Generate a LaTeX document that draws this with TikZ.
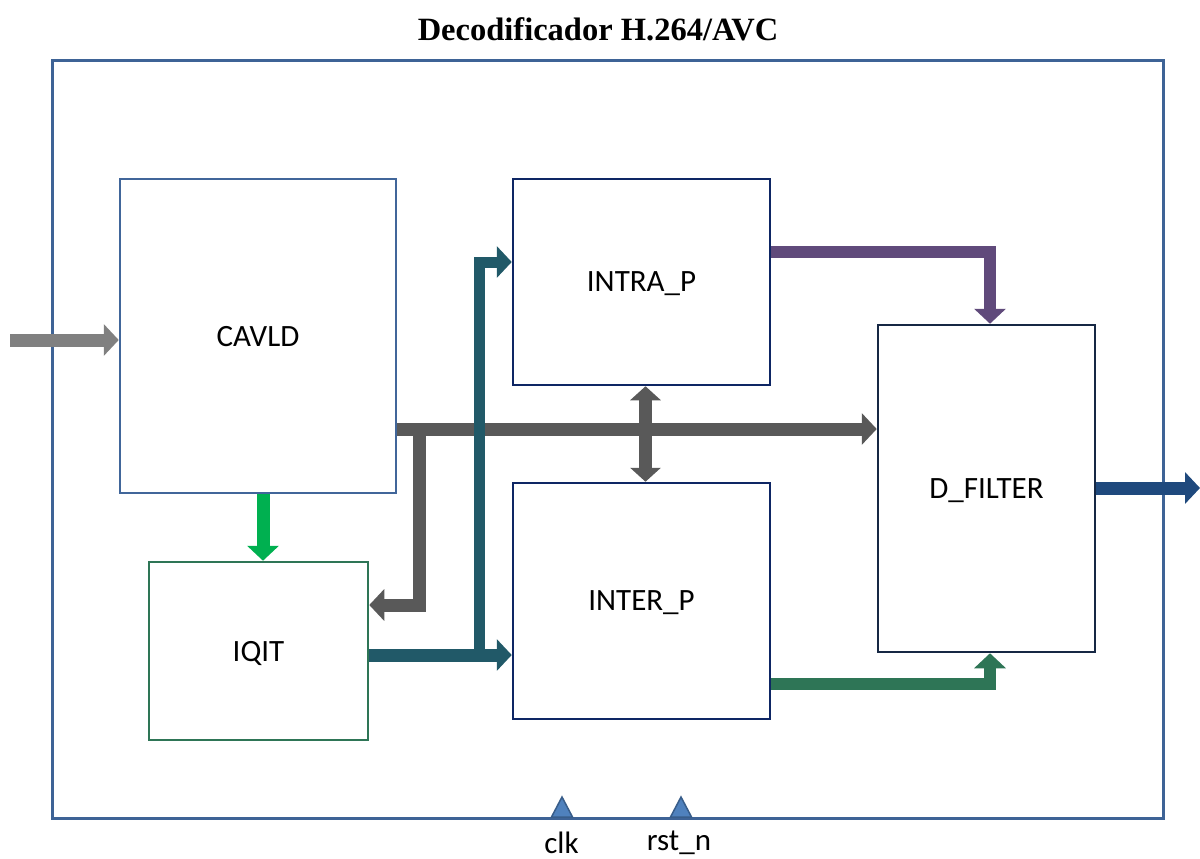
\documentclass[tikz,border=0pt]{standalone}
\usepackage{fontspec}
\setmainfont{Carlito}
\newfontfamily\titlefont{Liberation Serif}
\usepackage{tikz}
\usetikzlibrary{arrows.meta}

\definecolor{framecol}{RGB}{62,99,150}
\definecolor{cavldcol}{RGB}{65,102,154}
\definecolor{iqitcol}{RGB}{46,117,86}
\definecolor{navycol}{RGB}{14,38,100}
\definecolor{dfiltcol}{RGB}{22,40,68}
\definecolor{incol}{RGB}{128,128,128}
\definecolor{buscol}{RGB}{89,89,89}
\definecolor{coefcol}{RGB}{0,176,80}
\definecolor{tealcol}{RGB}{33,89,104}
\definecolor{purpcol}{RGB}{96,74,123}
\definecolor{greencol}{RGB}{46,117,86}
\definecolor{outcol}{RGB}{31,73,125}
\definecolor{portfill}{RGB}{79,129,189}
\definecolor{portdraw}{RGB}{56,93,138}

\begin{document}
\begin{tikzpicture}[x=1pt,y=-1pt,
	block/.style={draw, line width=2.5pt, fill=white, inner sep=0pt,
		text depth=0pt, font=\fontsize{31}{37}\selectfont},
	pipe/.style={line width=13pt, -{Triangle[width=31pt,length=15pt]}},
	twoway/.style={line width=13pt, {Triangle[width=30pt,length=14pt]}-{Triangle[width=30pt,length=14pt]}},
	portlbl/.style={font=\fontsize{31}{37}\selectfont, inner sep=0pt},
	port/.style={fill=portfill, draw=portdraw, line width=1.5pt}]
	\useasboundingbox (0,0) rectangle (1200,859);
	\fill[white] (0,0) rectangle (1200,859);
	% outer frame and title
	\node[draw=framecol, line width=3pt, minimum width=1111pt, minimum height=757pt] (dec) at (607.5,439.5) {};
	\node[font=\titlefont\bfseries\fontsize{32.5}{38}\selectfont] (ttl) at (598,29) {Decodificador H.264/AVC};
	% blocks
	\node[block, draw=cavldcol, minimum width=276pt, minimum height=314pt] (cavld) at (258,336) {CAVLD};
	\node[block, draw=iqitcol, minimum width=219pt, minimum height=178pt] (iqit) at (258.5,651) {IQIT};
	\node[block, draw=navycol, minimum width=257pt, minimum height=206pt] (intrap) at (641.5,282) {INTRA\_P};
	\node[block, draw=navycol, minimum width=257pt, minimum height=236pt] (interp) at (641.5,601) {INTER\_P};
	\node[block, draw=dfiltcol, minimum width=217pt, minimum height=327pt] (dfilter) at (986.5,488.5) {D\_FILTER};
	% helper points
	\coordinate (src) at (10,340);
	\coordinate (tap) at (419,429);
	\coordinate (fb) at (419,605);
	\coordinate (split) at (479,655);
	\coordinate (rise) at (479,262);
	\coordinate (pturn) at (990,252);
	\coordinate (gturn) at (990,684);
	\coordinate (sink) at (1200,488);
	% connectors
	\draw[pipe, incol] (src) -- (cavld.west |- src);
	\draw[pipe, coefcol] ([xshift=5pt]cavld.south) -- ([xshift=5pt]cavld.south |- iqit.north);
	\draw[pipe, buscol] (cavld.east |- tap) -- (dfilter.west |- tap);
	\draw[pipe, buscol] (tap) -- (fb) -- (iqit.east |- fb);
	\draw[twoway, buscol] ([xshift=4pt]intrap.south) -- ([xshift=4pt]interp.north);
	\draw[pipe, tealcol] (iqit.east |- split) -- (interp.west |- split);
	\draw[pipe, tealcol, line width=11pt] (split) -- (rise) -- (intrap.west |- rise);
	\draw[pipe, purpcol, line width=12pt] (intrap.east |- pturn) -- (pturn) -- (pturn |- dfilter.north);
	\draw[pipe, greencol, line width=12pt] (interp.east |- gturn) -- (gturn) -- (gturn |- dfilter.south);
	\draw[pipe, outcol] (dfilter.east |- sink) -- (sink);
	% clock and reset ports
	\node[portlbl] (clk) at (561.5,843) {clk};
	\node[portlbl] (rstn) at (679,843) {rst\_n};
	\draw[port] (551.5,817) -- (562,797) -- (572.5,817) -- cycle;
	\draw[port] (670.5,817) -- (681,797) -- (691.5,817) -- cycle;
\end{tikzpicture}
\end{document}
